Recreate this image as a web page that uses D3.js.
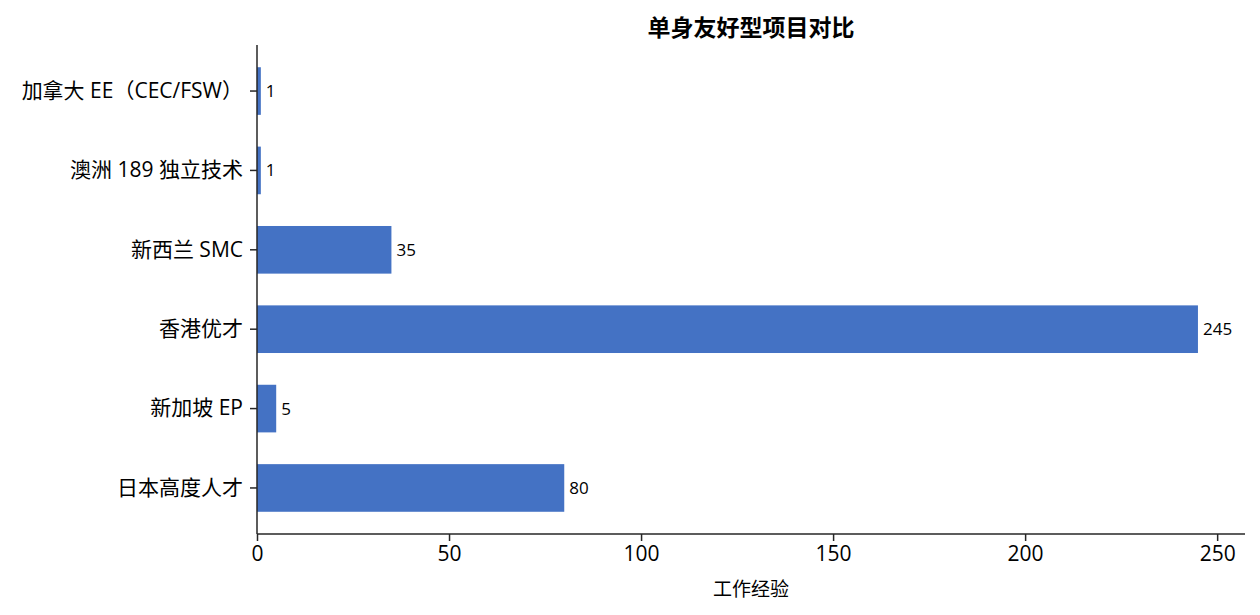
<!DOCTYPE html>
<html>
<head>
<meta charset="utf-8">
<script src="https://cdn.jsdelivr.net/npm/d3@7"></script>
<style>
  body { margin: 0; background: #fff; }
  text { font-family: "Open Sans", "Noto Sans CJK SC", sans-serif; fill: #000; }
</style>
</head>
<body>
<div id="chart"></div>
<script>
// categories top to bottom, with their work-experience numbers
let programs = ["加拿大 EE（CEC/FSW）", "澳洲 189 独立技术", "新西兰 SMC", "香港优才", "新加坡 EP", "日本高度人才"];
let values = [1, 1, 35, 245, 5, 80];
let xTicks = [0, 50, 100, 150, 200, 250];

let width = 1260, height = 615;
let margin = {top: 45, right: 15, bottom: 81, left: 257};

let svg = d3.select("#chart").append("svg")
    .attr("width", width)
    .attr("height", height);

let xScale = d3.scaleLinear()
    .domain([0, d3.max(values) * 1.05])
    .range([margin.left, width - margin.right]);

let yScale = d3.scaleBand()
    .domain(programs)
    .range([margin.top, height - margin.bottom])
    .paddingInner(0.4)
    .paddingOuter(0.28);

let rows = programs.map((p, i) => ({name: p, value: values[i]}));

svg.append("g")
    .selectAll("rect")
    .data(rows)
    .join("rect")
    .attr("x", xScale(0))
    .attr("y", d => yScale(d.name))
    .attr("width", d => xScale(d.value) - xScale(0))
    .attr("height", yScale.bandwidth())
    .attr("fill", "#4472C4");

// value labels just right of each bar
svg.append("g")
    .selectAll("text")
    .data(rows)
    .join("text")
    .attr("x", d => xScale(d.value) + 5)
    .attr("y", d => yScale(d.name) + yScale.bandwidth() / 2)
    .attr("dy", "0.35em")
    .style("font-size", "17px")
    .text(d => d.value);

let xAxis = d3.axisBottom(xScale).tickValues(xTicks).tickSize(7).tickPadding(5);
let yAxis = d3.axisLeft(yScale).tickSize(7).tickPadding(7);

let gx = svg.append("g")
    .attr("transform", `translate(0, ${height - margin.bottom})`)
    .call(xAxis);
gx.select(".domain").attr("d", `M${margin.left},0H${width - margin.right}`);

let gy = svg.append("g")
    .attr("transform", `translate(${margin.left}, 0)`)
    .call(yAxis);
gy.select(".domain").attr("d", `M0,${margin.top}V${height - margin.bottom}`);

svg.selectAll(".domain, .tick line")
    .attr("stroke", "#262626")
    .attr("stroke-width", 1.5);
svg.selectAll(".tick text")
    .style("font-size", "21px")
    .attr("fill", "#000");

svg.append("text")
    .attr("x", (margin.left + width - margin.right) / 2)
    .attr("y", 36)
    .attr("text-anchor", "middle")
    .style("font-size", "23px")
    .style("font-weight", "bold")
    .text("单身友好型项目对比");

svg.append("text")
    .attr("x", (margin.left + width - margin.right) / 2)
    .attr("y", 596)
    .attr("text-anchor", "middle")
    .style("font-size", "19px")
    .text("工作经验");
</script>
</body>
</html>
